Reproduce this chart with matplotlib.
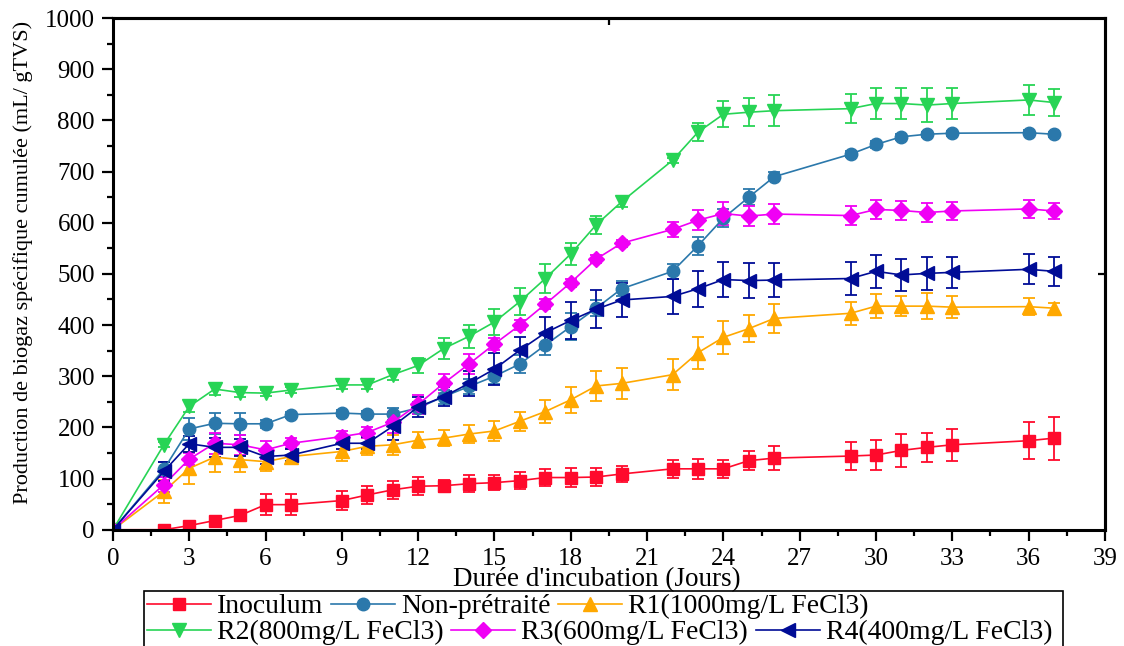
import matplotlib
matplotlib.use("Agg")
import matplotlib.pyplot as plt
from matplotlib.patches import Rectangle

plt.rcParams['font.family'] = ['Liberation Serif', 'DejaVu Serif']

# Jours de mesure
days = [0, 2, 3, 4, 5, 6, 7, 9, 10, 11, 12, 13, 14, 15, 16, 17, 18, 19, 20,
        22, 23, 24, 25, 26, 29, 30, 31, 32, 33, 36, 37]

# Production cumulée (mL/gTVS) et écarts-types
inoculum = [0, 0, 8, 18, 28, 49, 49, 57, 68, 78, 85, 86, 90, 92, 96, 102, 102,
            103, 109, 119, 119, 119, 135, 140, 144, 146, 155, 161, 166, 174, 179]
inoculum_err = [0, 2, 5, 5, 6, 20, 20, 18, 17, 17, 18, 12, 16, 14, 17, 16, 18,
                18, 15, 18, 19, 18, 18, 23, 28, 30, 32, 29, 31, 36, 42]

non_pretraite = [0, 118, 197, 208, 207, 207, 225, 228, 226, 226, 238, 260, 280,
                 300, 324, 361, 397, 433, 471, 505, 555, 609, 650, 690, 734,
                 753, 768, 773, 775, 776, 773]
non_pretraite_err = [0, 15, 21, 20, 21, 8, 6, 6, 6, 11, 12, 14, 15, 15, 18, 20,
                     26, 16, 15, 14, 18, 18, 15, 9, 6, 6, 6, 5, 5, 5, 5]

r1 = [0, 75, 120, 142, 137, 133, 143, 153, 163, 166, 175, 179, 187, 193, 212,
      231, 254, 281, 286, 303, 346, 376, 393, 413, 423, 437, 437, 437, 435,
      436, 433]
r1_err = [0, 23, 31, 30, 25, 19, 15, 18, 16, 19, 16, 16, 18, 20, 19, 23, 25,
          29, 30, 30, 31, 32, 27, 28, 23, 23, 20, 25, 22, 16, 10]

r2 = [0, 166, 241, 275, 268, 267, 273, 283, 283, 303, 321, 354, 378, 406, 446,
      491, 539, 596, 641, 722, 777, 812, 816, 819, 823, 833, 833, 830, 833,
      840, 835]
r2_err = [0, 5, 10, 11, 8, 6, 6, 8, 8, 10, 14, 20, 23, 26, 27, 28, 22, 18, 11,
          5, 17, 25, 27, 30, 29, 31, 31, 33, 31, 29, 27]

r3 = [0, 88, 138, 169, 166, 156, 169, 182, 190, 210, 245, 286, 324, 363, 400,
      441, 483, 529, 560, 587, 605, 618, 613, 617, 614, 626, 624, 620, 623,
      627, 623]
r3_err = [0, 15, 12, 21, 19, 18, 10, 10, 10, 20, 19, 19, 19, 12, 10, 10, 8, 8,
          7, 15, 20, 22, 20, 20, 18, 18, 18, 18, 17, 18, 15]

r4 = [0, 114, 168, 161, 161, 143, 146, 169, 169, 202, 240, 260, 286, 314, 351,
      385, 409, 431, 449, 456, 471, 489, 487, 488, 491, 505, 498, 501, 503,
      509, 505]
r4_err = [0, 19, 16, 18, 17, 15, 12, 12, 12, 26, 20, 18, 24, 31, 26, 31, 36,
          37, 34, 35, 35, 34, 34, 34, 32, 32, 32, 32, 31, 29, 29]

labels = ['Inoculum', 'Non-prétraité', 'R1(1000mg/L FeCl3)',
          'R2(800mg/L FeCl3)', 'R3(600mg/L FeCl3)', 'R4(400mg/L FeCl3)']
series = [inoculum, non_pretraite, r1, r2, r3, r4]
errors = [inoculum_err, non_pretraite_err, r1_err, r2_err, r3_err, r4_err]
colors = ['#ff0a2c', '#2b78ab', '#ffa800', '#27d455', '#f000f5', '#000c96']
markers = ['s', 'o', '^', 'v', 'D', '<']
sizes = [9, 9, 10, 10, 8, 10]

fig = plt.figure(figsize=(11.24, 6.46), dpi=100)
ax = fig.add_axes([0.1005, 0.180, 0.8825, 0.792])

handles = []
for y, e, c, m, s, lab in zip(series, errors, colors, markers, sizes, labels):
    h = ax.errorbar(days, y, yerr=e, color=c, marker=m, markersize=s,
                    lw=1.2, elinewidth=1.3, capsize=4.5, capthick=1.3,
                    label=lab)
    # seule la ligne avec marqueur va dans la légende
    handles.append(h.lines[0])

ax.set_xlim(0, 39)
ax.set_ylim(0, 1000)
ax.set_xticks(range(0, 40, 3))
ax.set_xticks([x + 1.5 for x in range(0, 39, 3)], minor=True)
ax.set_yticks(range(0, 1001, 100))
ax.set_yticks(range(50, 1000, 100), minor=True)
ax.tick_params(which='major', direction='out', length=8, width=1.6,
               labelsize=18, pad=5)
ax.tick_params(which='minor', direction='out', length=4, width=1.6)
for sp in ax.spines.values():
    sp.set_linewidth(2.2)

# ticks intérieurs sur les axes opposés
top = ax.secondary_xaxis('top')
top.set_xticks([19.5])
top.tick_params(direction='in', length=5, width=1.6, labeltop=False)
top.spines['top'].set_linewidth(2.2)
right = ax.secondary_yaxis('right')
right.set_yticks([500])
right.tick_params(direction='in', length=5, width=1.6, labelright=False)
right.spines['right'].set_linewidth(2.2)

ax.set_xlabel("Durée d'incubation (Jours)", fontsize=19.5)
ax.xaxis.set_label_coords(0.488, -0.074)
ax.set_ylabel('Production de biogaz spécifique cumulée (mL/ gTVS)',
              fontsize=16)
ax.yaxis.set_label_coords(-0.081, 0.523)

# légende sur deux lignes dans un cadre commun
leg_kw = dict(ncol=3, frameon=False, fontsize=20, handlelength=2.3,
              handletextpad=0.22, columnspacing=0.28, borderpad=0,
              borderaxespad=0, loc='upper left')
leg1 = fig.legend(handles[:3], labels[:3],
                  bbox_to_anchor=(147 / 1124, 1 - 594 / 646), **leg_kw)
leg2 = fig.legend(handles[3:], labels[3:],
                  bbox_to_anchor=(147 / 1124, 1 - 620 / 646), **leg_kw)
fig.add_artist(Rectangle((144 / 1124, -0.05), (1063 - 144) / 1124,
                         1 - 591 / 646 + 0.05, transform=fig.transFigure,
                         fill=False, edgecolor='black', linewidth=1.2))

fig.savefig('out.png', dpi=100)
